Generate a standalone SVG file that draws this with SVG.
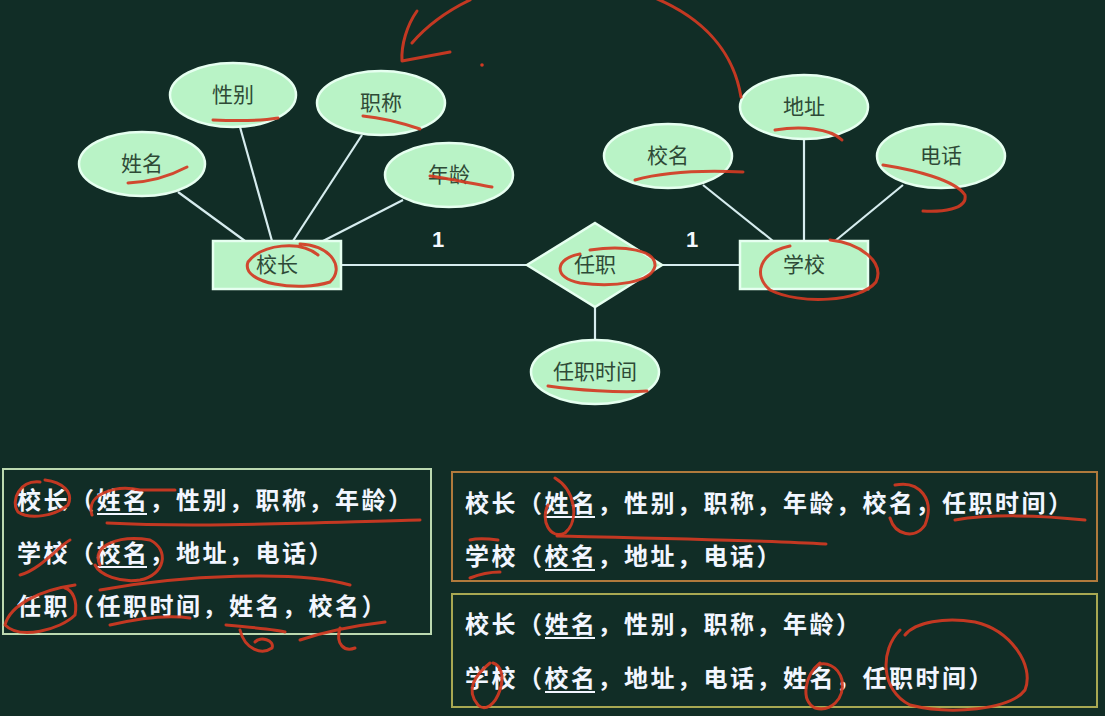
<svg xmlns="http://www.w3.org/2000/svg" width="1105" height="716" viewBox="0 0 1105 716">
<defs>
<style>
.bg{fill:#112d26}
.ent{fill:#b9f3c6;stroke:#e6fff0;stroke-width:2.5}
.lbl{font-family:"Noto Sans CJK SC","Noto Sans",sans-serif;font-size:21px;fill:#2e4a36;text-anchor:middle}
.edge{stroke:#d6ecee;stroke-width:2.2;fill:none}
.card{font-family:"Liberation Sans",sans-serif;font-size:22px;font-weight:bold;fill:#f4f8ff;text-anchor:middle}
.row{font-family:"Noto Sans CJK SC",sans-serif;font-size:24px;font-weight:bold;fill:#f2f6ff;letter-spacing:2.5px}
.ul{stroke:#f2f6ff;stroke-width:2}
.red{stroke:#d23a22;stroke-width:3;fill:none;stroke-linecap:round;stroke-linejoin:round;opacity:0.92}
</style>
</defs>
<rect class="bg" x="0" y="0" width="1105" height="716"/>

<g id="connectors">
<line class="edge" x1="178" y1="192" x2="245" y2="241"/>
<line class="edge" x1="240" y1="127" x2="272" y2="241"/>
<line class="edge" x1="362" y1="135" x2="293" y2="241"/>
<line class="edge" x1="403" y1="200" x2="323" y2="241"/>
<line class="edge" x1="341" y1="265" x2="527" y2="265"/>
<line class="edge" x1="662" y1="265" x2="740" y2="265"/>
<line class="edge" x1="595" y1="307" x2="595" y2="340"/>
<line class="edge" x1="703" y1="185" x2="773" y2="241"/>
<line class="edge" x1="804" y1="139" x2="804" y2="241"/>
<line class="edge" x1="903" y1="185" x2="835" y2="241"/>
<text class="card" x="438" y="247">1</text>
<text class="card" x="692" y="247">1</text>
</g>

<g id="node-xingbie"><ellipse class="ent" cx="233" cy="95" rx="63" ry="32"/><text class="lbl" x="233" y="102">性别</text></g>
<g id="node-zhicheng"><ellipse class="ent" cx="381" cy="103" rx="64" ry="32"/><text class="lbl" x="381" y="110">职称</text></g>
<g id="node-xingming"><ellipse class="ent" cx="142" cy="164" rx="63" ry="32"/><text class="lbl" x="142" y="171">姓名</text></g>
<g id="node-nianling"><ellipse class="ent" cx="449" cy="175" rx="64" ry="32"/><text class="lbl" x="449" y="182">年龄</text></g>
<g id="node-xiaozhang"><rect class="ent" x="213" y="241" width="128" height="48"/><text class="lbl" x="277" y="272">校长</text></g>
<g id="node-renzhi"><polygon class="ent" points="595,223 662,265 595,307 527,265"/><text class="lbl" x="595" y="272">任职</text></g>
<g id="node-renzhishijian"><ellipse class="ent" cx="595" cy="372" rx="64" ry="32"/><text class="lbl" x="595" y="379">任职时间</text></g>
<g id="node-dizhi"><ellipse class="ent" cx="804" cy="107" rx="64" ry="32"/><text class="lbl" x="804" y="114">地址</text></g>
<g id="node-xiaoming"><ellipse class="ent" cx="668" cy="156" rx="64" ry="32"/><text class="lbl" x="668" y="163">校名</text></g>
<g id="node-dianhua"><ellipse class="ent" cx="941" cy="156" rx="64" ry="32"/><text class="lbl" x="941" y="163">电话</text></g>
<g id="node-xuexiao"><rect class="ent" x="740" y="241" width="128" height="48"/><text class="lbl" x="804" y="272">学校</text></g>

<g id="box-left">
<rect x="3" y="469" width="428" height="165" fill="none" stroke="#bcd9b0" stroke-width="2"/>
<text class="row" x="17" y="509">校长（姓名，性别，职称，年龄）</text>
<line class="ul" x1="97" y1="514" x2="147" y2="514"/>
<text class="row" x="17" y="562">学校（校名，地址，电话）</text>
<line class="ul" x1="97" y1="567" x2="147" y2="567"/>
<text class="row" x="17" y="615">任职（任职时间，姓名，校名）</text>
</g>

<g id="box-right-top">
<rect x="452" y="472" width="645" height="109" fill="none" stroke="#b07a3c" stroke-width="2"/>
<text class="row" x="465" y="512">校长（姓名，性别，职称，年龄，校名，任职时间）</text>
<line class="ul" x1="545" y1="517" x2="595" y2="517"/>
<text class="row" x="465" y="565">学校（校名，地址，电话）</text>
<line class="ul" x1="545" y1="570" x2="595" y2="570"/>
</g>

<g id="box-right-bottom">
<rect x="452" y="594" width="645" height="113" fill="none" stroke="#a8a852" stroke-width="2"/>
<text class="row" x="465" y="633">校长（姓名，性别，职称，年龄）</text>
<line class="ul" x1="545" y1="638" x2="595" y2="638"/>
<text class="row" x="465" y="687">学校（校名，地址，电话，姓名，任职时间）</text>
<line class="ul" x1="545" y1="692" x2="595" y2="692"/>
</g>

<g id="annotations">
<path class="red" d="M741,97 C735,60 712,22 655,-2"/>
<path class="red" d="M470,0 C445,12 425,28 412,43"/>
<path class="red" d="M417,11 C407,25 401,45 402,61 L450,52"/>
<circle cx="482" cy="65" r="1.8" fill="#d23a22"/>
<path class="red" d="M213,120 C235,121 260,121 278,118"/>
<path class="red" d="M363,116 C385,118 405,124 420,129"/>
<path class="red" d="M128,183 C150,182 170,176 187,167"/>
<path class="red" d="M430,176 C450,179 470,183 492,187"/>
<path class="red" d="M318,255 C300,240 262,244 248,262 C240,284 300,292 330,282 C345,268 332,246 300,244"/>
<path class="red" d="M790,246 C760,252 752,275 770,290 C800,305 860,302 876,282 C885,262 860,243 830,240"/>
<path class="red" d="M580,254 C555,258 552,278 580,283 C615,288 652,282 655,266 C656,250 625,245 590,250"/>
<path class="red" d="M548,386 C575,390 620,393 647,391"/>
<path class="red" d="M775,130 C800,126 830,128 842,140"/>
<path class="red" d="M635,180 C660,173 700,170 743,172"/>
<path class="red" d="M883,165 C915,170 955,180 965,195 C968,210 940,212 923,211"/>
<path class="red" d="M40,482 C20,480 10,500 18,512 C30,520 55,516 68,505 C74,492 62,482 45,480"/>
<path class="red" d="M107,523 C200,528 330,522 420,520"/>
<path class="red" d="M92,515 C85,495 115,484 140,490 L175,490"/>
<path class="red" d="M20,575 C40,570 60,545 70,540"/>
<path class="red" d="M100,565 C90,545 120,535 150,540 C170,550 165,575 140,580 C120,583 100,575 95,565"/>
<path class="red" d="M100,590 C180,575 300,570 350,585"/>
<path class="red" d="M75,585 C40,590 10,605 5,625 C20,640 60,630 75,615 C78,600 72,590 65,588"/>
<path class="red" d="M110,625 C140,618 170,615 190,618"/>
<path class="red" d="M226,625 C260,628 280,630 285,632 M240,630 C245,650 262,655 272,648 C275,640 260,636 255,642"/>
<path class="red" d="M300,640 C330,630 360,625 385,622 M340,628 C335,645 345,652 355,648"/>
<path class="red" d="M555,478 C575,490 580,520 565,533 C550,540 540,520 548,505"/>
<path class="red" d="M895,485 C920,480 935,500 925,525 C915,540 895,535 890,518"/>
<path class="red" d="M557,536 C650,538 760,540 826,544"/>
<path class="red" d="M955,520 C990,514 1040,515 1085,520"/>
<path class="red" d="M470,540 C478,538 490,539 498,540"/>
<path class="red" d="M470,578 C480,574 492,572 500,572"/>
<path class="red" d="M490,663 C475,675 465,690 478,705 C485,712 495,705 500,690 C505,675 500,665 493,663"/>
<path class="red" d="M820,663 C805,675 800,700 815,708 C830,712 845,700 842,680 C838,665 825,662 818,665"/>
<path class="red" d="M900,630 C880,650 880,690 910,705 C950,715 1010,710 1025,690 C1035,665 1010,630 975,622 C945,617 915,622 905,635"/>
</g>
</svg>
